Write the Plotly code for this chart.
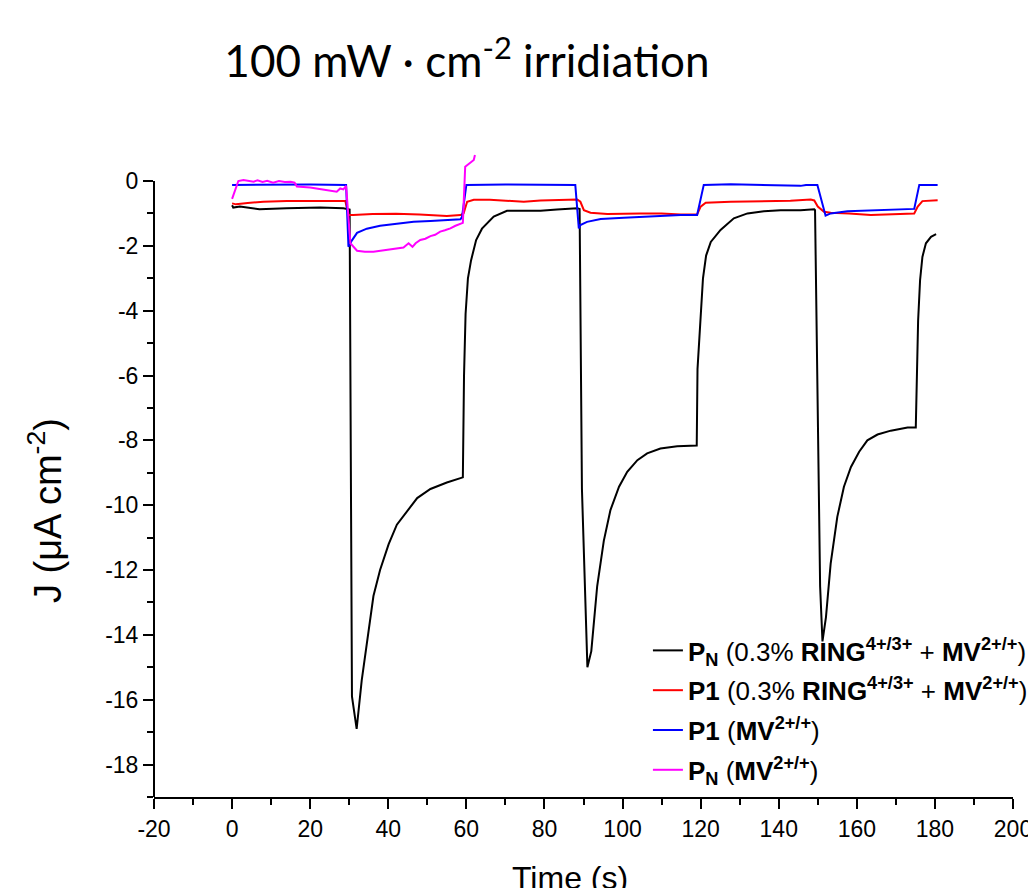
import plotly.graph_objects as go

# ---- data ----
t_pn_ring = [0, 0.3, 2, 7, 14, 22.6, 28.5, 29.8, 30.1, 30.7, 31.9, 33.2, 34.5, 36.2, 37.9, 40.1,
             42.2, 44.8, 47.4, 50.8, 55.0, 59.1, 59.4, 59.8, 60.4, 61.2, 62.5, 64.0, 67.0, 70.4,
             74.7, 79.0, 83.2, 88.4, 89.0, 89.6, 91.0, 92.0, 93.5, 95.2, 96.9, 99.1, 101.2, 103.8,
             106.3, 109.7, 114.0, 119.0, 119.2, 119.9, 120.6, 121.4, 122.6, 125.1, 128.5, 132.0,
             136.2, 140.5, 145.6, 149.1, 149.3, 150.6, 151.2, 152.1, 153.3, 155.0, 156.7, 158.5,
             160.6, 162.7, 165.3, 168.7, 173.0, 175.1, 175.4, 175.7, 176.2, 176.8, 177.7, 179.0, 180.3]
j_pn_ring = [-0.75, -0.82, -0.79, -0.87, -0.84, -0.82, -0.84, -0.86, -0.88, -15.9, -16.9, -15.4, -14.2,
             -12.8, -12.0, -11.2, -10.6, -10.2, -9.78, -9.5, -9.3, -9.14, -6.0, -4.1, -3.0, -2.45,
             -1.82, -1.47, -1.1, -0.92, -0.92, -0.92, -0.88, -0.84, -0.86, -9.5, -15.0, -14.5, -12.5,
             -11.1, -10.15, -9.43, -8.97, -8.61, -8.4, -8.25, -8.18, -8.16, -5.8, -4.2, -3.0, -2.3,
             -1.88, -1.51, -1.15, -1.0, -0.93, -0.9, -0.9, -0.87, -0.9, -12.5, -14.2, -13.45, -11.8,
             -10.36, -9.43, -8.82, -8.35, -8.0, -7.82, -7.7, -7.6, -7.6, -5.8, -4.3, -3.06, -2.34,
             -1.92, -1.72, -1.64]

t_p1_ring = [0, 1, 4, 8, 14, 22, 29, 29.8, 31, 36, 42, 48, 52, 55, 58.5, 59.3, 60.2, 61.9, 66, 70.4,
             74.7, 79, 83.3, 88.4, 89.2, 90.1, 91.8, 96.1, 104.6, 110, 114.9, 119.1, 120, 121.3,
             127.7, 136.2, 143, 148.2, 149.1, 150, 151.6, 153.3, 158, 163.6, 170, 174.7, 175.6,
             176.8, 180.7]
j_p1_ring = [-0.69, -0.72, -0.68, -0.64, -0.62, -0.62, -0.62, -1.05, -1.05, -1.02, -1.01, -1.03,
             -1.07, -1.08, -1.05, -1.0, -0.64, -0.58, -0.58, -0.61, -0.64, -0.6, -0.58, -0.57, -0.64,
             -0.9, -0.98, -1.02, -1.0, -1.0, -1.03, -1.03, -0.79, -0.67, -0.64, -0.62, -0.61, -0.57,
             -0.6, -0.79, -0.95, -0.98, -1.0, -1.05, -1.02, -1.0, -0.79, -0.62, -0.59]

t_p1_mv = [0, 10, 20, 29.2, 29.8, 30.7, 32, 34.5, 37.9, 42.2, 46.5, 50.8, 55, 58.5, 58.9, 60, 70, 80,
           87.9, 88.8, 89.2, 90.9, 94.4, 100.3, 104.6, 110, 114.9, 119.1, 120.8, 127.7, 140, 145.6,
           147, 149.9, 152, 153.3, 157.6, 165, 174.7, 176, 180.7]
j_p1_mv = [-0.12, -0.11, -0.11, -0.12, -2.03, -1.83, -1.6, -1.47, -1.38, -1.32, -1.26, -1.23, -1.2,
           -1.18, -1.1, -0.12, -0.11, -0.12, -0.12, -1.46, -1.36, -1.26, -1.17, -1.13, -1.1, -1.07,
           -1.05, -1.05, -0.12, -0.1, -0.12, -0.15, -0.12, -0.12, -1.07, -1.0, -0.93, -0.9, -0.86,
           -0.12, -0.12]

t_pn_mv = [0, 1.6, 2.9, 4.2, 5.5, 6.5, 7.8, 9, 10.5, 12, 13.5, 15, 16, 16.6, 18, 20, 22, 24, 25.5,
           26.8, 27.7, 28.5, 29.2, 30.3, 32, 34, 36.2, 38.5, 40.5, 42, 43.9, 45.2, 46.2, 47, 48.2,
           49.5, 50.8, 52, 53.3, 54.5, 55.9, 57.2, 58.5, 59.1, 59.7, 61.9, 62.2]
j_pn_mv = [-0.55, 0.0, 0.03, 0.0, -0.02, 0.02, -0.03, 0.01, -0.05, 0.0, -0.03, -0.02, -0.05, -0.17,
           -0.18, -0.2, -0.24, -0.27, -0.3, -0.33, -0.23, -0.26, -0.15, -1.92, -2.15, -2.18, -2.18,
           -2.14, -2.1, -2.08, -2.05, -1.92, -2.03, -1.92, -1.82, -1.78, -1.7, -1.66, -1.56, -1.52,
           -1.46, -1.38, -1.31, -1.29, 0.44, 0.65, 0.8]

series_names = [
    "<b>P<sub>N</sub></b> (0.3% <b>RING<sup>4+/3+</sup></b> + <b>MV<sup>2+/+</sup></b>)",
    "<b>P1</b> (0.3% <b>RING<sup>4+/3+</sup></b> + <b>MV<sup>2+/+</sup></b>)",
    "<b>P1</b> (<b>MV<sup>2+/+</sup></b>)",
    "<b>P<sub>N</sub></b> (<b>MV<sup>2+/+</sup></b>)",
]
series_colors = ["#000000", "#ff0000", "#0000ff", "#ff00ff"]

x_tickvals = [-20, 0, 20, 40, 60, 80, 100, 120, 140, 160, 180, 200]
x_ticktext = ["-20", "0", "20", "40", "60", "80", "100", "120", "140", "160", "180", "200"]
y_tickvals = [0, -2, -4, -6, -8, -10, -12, -14, -16, -18]
y_ticktext = ["0", "-2", "-4", "-6", "-8", "-10", "-12", "-14", "-16", "-18"]

FONT = "Liberation Sans, Arial, sans-serif"

# the page body adds an 8px offset, so the figure is 8px smaller than the window
W, H = 1028, 880
L, R, T, B = 146, 23, 145, 91
PW, PH = W - L - R, H - T - B  # 859 x 644

fig = go.Figure()
for i, (tx, jy) in enumerate([(t_pn_ring, j_pn_ring), (t_p1_ring, j_p1_ring),
                              (t_p1_mv, j_p1_mv), (t_pn_mv, j_pn_mv)]):
    fig.add_trace(go.Scatter(x=tx, y=jy, mode="lines", name=series_names[i],
                             legendgroup=f"g{i}",
                             line=dict(color=series_colors[i], width=2), cliponaxis=False))

fig.update_layout(
    width=W, height=H,
    margin=dict(l=L, r=R, t=T, b=B, autoexpand=False),
    paper_bgcolor="white", plot_bgcolor="white",
    font=dict(family=FONT, color="black", size=23),
    title=dict(text="100 mW · cm<sup>-2</sup> irridiation", x=459 / W, xanchor="center",
               xref="container", y=1 - 54 / H, yanchor="middle", yref="container",
               font=dict(family="Lato, sans-serif", size=44, color="black")),
    showlegend=True,
    legend=dict(x=0.575, xanchor="left", y=0.264, yanchor="top", bgcolor="rgba(0,0,0,0)",
                font=dict(family=FONT, size=26, color="black"), tracegroupgap=3),
)

fig.update_xaxes(range=[-20, 200], showline=True, linecolor="black", linewidth=2,
                 automargin=False,
                 ticks="outside", ticklen=10, tickwidth=2, tickcolor="black",
                 tickvals=x_tickvals, ticktext=x_ticktext, showgrid=False, zeroline=False,
                 tickfont=dict(family=FONT, size=23),
                 minor=dict(dtick=10, tick0=0, ticks="outside", ticklen=6, tickwidth=2,
                            tickcolor="black", showgrid=False))
fig.update_yaxes(range=[-19, 0.864], showline=False, automargin=False,
                 ticks="outside", ticklen=10, tickwidth=2, tickcolor="black",
                 tickvals=y_tickvals, ticktext=y_ticktext, showgrid=False, zeroline=False,
                 tickfont=dict(family=FONT, size=23),
                 minor=dict(dtick=1, tick0=0, ticks="outside", ticklen=6, tickwidth=2,
                            tickcolor="black", showgrid=False))

# y axis line only spans the data range down from 0
fig.add_shape(type="line", xref="paper", yref="y", x0=0, x1=0, y0=-19, y1=0,
              line=dict(color="black", width=2))

fig.add_annotation(text="J (μA cm<sup>-2</sup>)", textangle=-90, xref="paper", yref="paper",
                   x=(45 - 154) / PW, y=(797 - 511) / PH, xanchor="center", yanchor="middle",
                   showarrow=False, font=dict(family=FONT, size=38, color="black"))
fig.add_annotation(text="Time (s)", xref="paper", yref="paper",
                   x=(570 - 154) / PW, y=(797 - 858) / PH, xanchor="center", yanchor="top",
                   showarrow=False, font=dict(family=FONT, size=32, color="black"))

fig.write_html("out.html")
